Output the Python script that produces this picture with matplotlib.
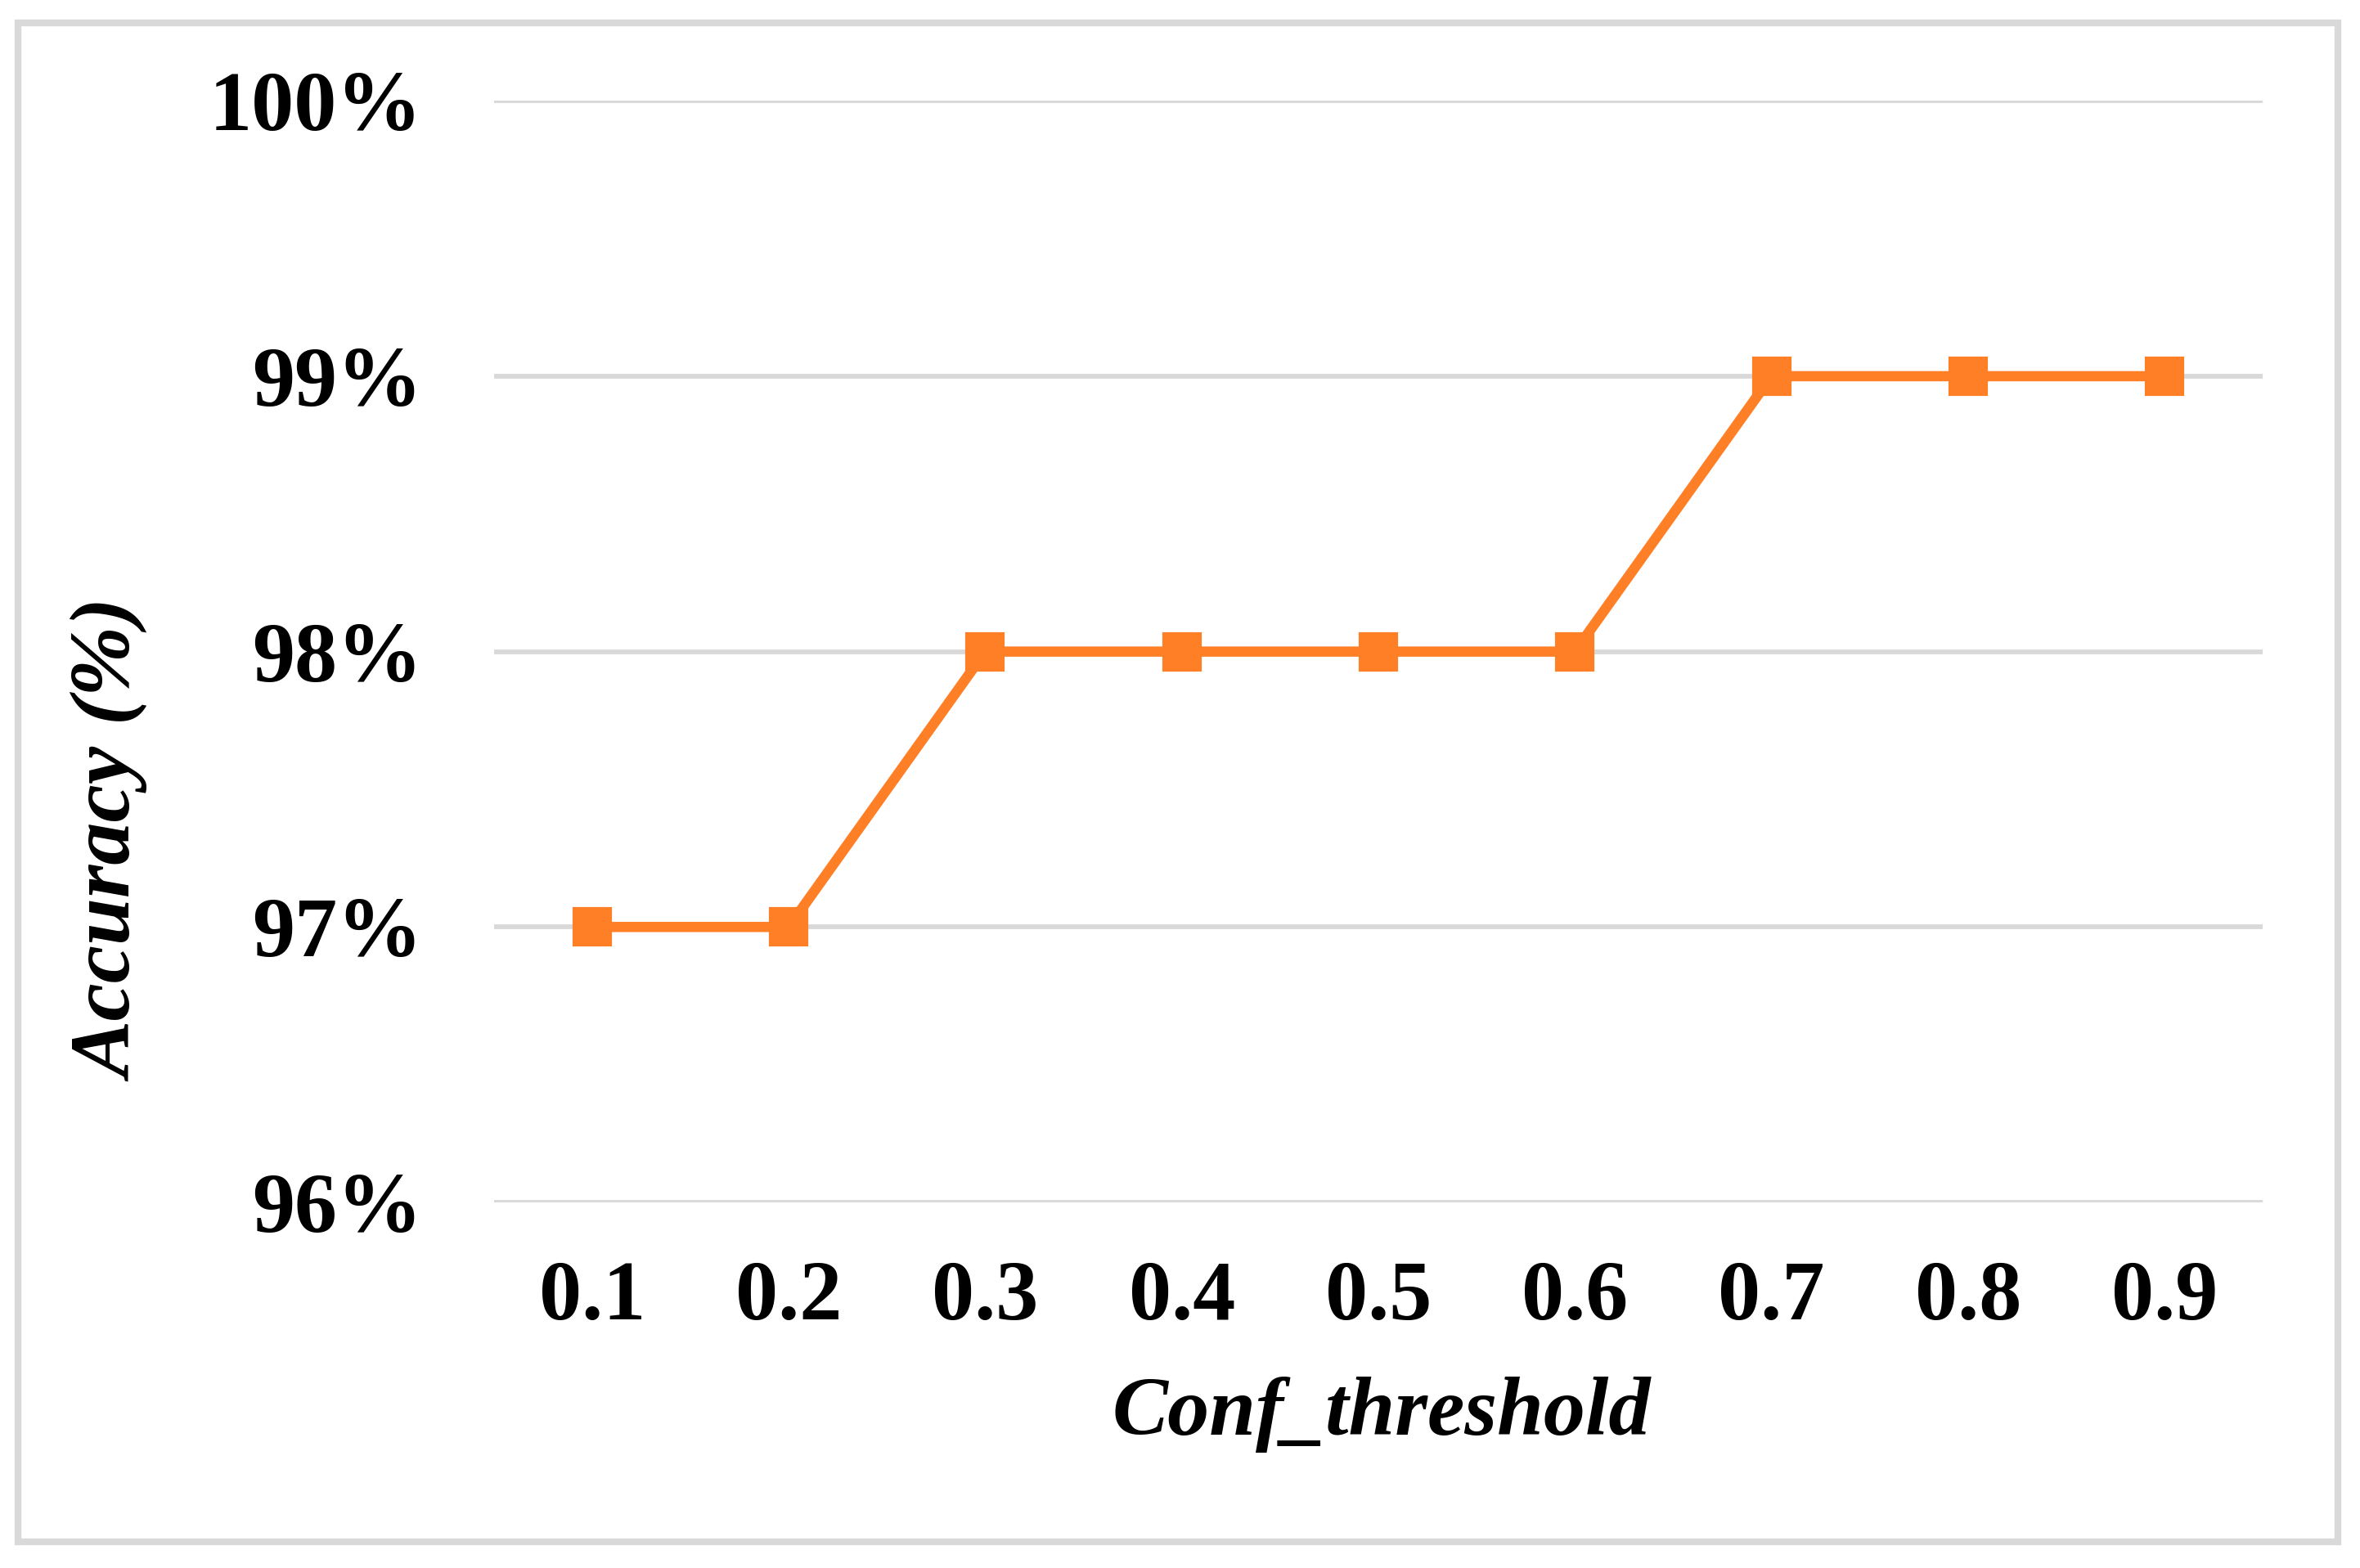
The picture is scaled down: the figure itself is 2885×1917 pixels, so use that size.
import matplotlib
matplotlib.use("Agg")
import matplotlib.pyplot as plt
from matplotlib.patches import Rectangle

thresholds = ["0.1", "0.2", "0.3", "0.4", "0.5", "0.6", "0.7", "0.8", "0.9"]
accuracy = [97, 97, 98, 98, 98, 98, 99, 99, 99]
y_ticks = [96, 97, 98, 99, 100]
y_tick_labels = ["96%", "97%", "98%", "99%", "100%"]

W, H, DPI = 2886, 1917, 300
fig = plt.figure(figsize=(W / DPI, H / DPI), dpi=DPI)
fig.patch.set_facecolor("white")

ax = fig.add_axes([0.2092, 0.2332, 0.7493, 0.7025])
x = list(range(len(thresholds)))
ax.plot(x, accuracy, color="#FF7F27", linewidth=3.0, marker="s",
        markersize=10.5, markerfacecolor="#FF7F27", markeredgecolor="#FF7F27",
        zorder=3, clip_on=False)

ax.set_xlim(-0.5, len(thresholds) - 0.5)
ax.set_ylim(96, 100)
ax.set_yticks(y_ticks)
ax.set_yticklabels(y_tick_labels)
ax.set_xticks(x)
ax.set_xticklabels(thresholds)
for s in ax.spines.values():
    s.set_visible(False)
ax.grid(axis="y", color="#D9D9D9", linewidth=1.4, zorder=0)
ax.set_axisbelow(True)
ax.tick_params(axis="both", length=0)
ax.tick_params(axis="y", pad=21)
ax.tick_params(axis="x", pad=17)
for lab in ax.get_xticklabels() + ax.get_yticklabels():
    lab.set_fontfamily("Liberation Serif")
    lab.set_fontweight("bold")
    lab.set_fontsize(25)
    lab.set_color("black")

fig.text(0.0478, 0.4635, "Accuracy (%)", rotation=90, ha="center", va="center",
         fontfamily="Liberation Serif", fontweight="bold", fontstyle="italic",
         fontsize=25, color="black")
fig.text(0.585, 0.098, "Conf_threshold", ha="center", va="center",
         fontfamily="Liberation Serif", fontweight="bold", fontstyle="italic",
         fontsize=24.5, color="black")

border = Rectangle((0.0077, 0.0165), 0.9904 - 0.0077, 0.9856 - 0.0165,
                   transform=fig.transFigure, fill=False,
                   edgecolor="#D9D9D9", linewidth=2.0, zorder=0)
fig.patches.append(border)

fig.savefig("out.png", dpi=DPI, facecolor="white")
